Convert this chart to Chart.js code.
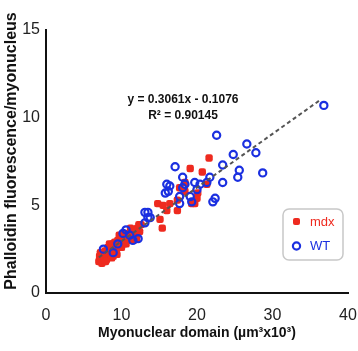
<!DOCTYPE html>
<html>
<head>
<meta charset="utf-8">
<script src="https://cdn.jsdelivr.net/npm/chart.js@4"></script>
<style>
  html, body { margin: 0; padding: 0; background: #fff; }
  #wrap { width: 358px; height: 351px; }
</style>
</head>
<body>
<div id="wrap"><canvas id="chart" width="358" height="351"></canvas></div>
<script>
// mdx (red filled squares)
const mdxX = [7.0, 7.1, 7.3, 7.4, 7.5, 7.7, 7.8, 8.0, 8.0, 8.2, 8.3, 8.5, 8.6, 8.7, 8.8, 9.0, 9.0, 9.1, 9.3, 9.5,
  9.6, 9.8, 10.0, 10.0, 10.1, 10.3, 10.5, 10.8, 11.0, 11.3, 11.5, 11.8, 12.0, 12.1, 12.4, 12.6,
  7.2, 7.9, 8.4, 8.9, 9.4, 9.7, 10.4, 10.6, 11.2, 11.6, 12.3,
  14.8, 15.5, 16.4, 16.0, 17.4, 15.1, 15.4, 17.4, 17.7, 18.4, 19.7, 20.1, 19.3, 20.0, 21.3, 19.1, 20.7, 21.6, 18.4];
const mdxY = [1.8, 2.1, 1.9, 1.7, 2.2, 2.0, 2.4, 2.1, 1.9, 2.6, 2.3, 2.5, 2.2, 2.0, 2.8, 2.6, 2.3, 2.9, 2.5, 3.0,
  2.7, 3.1, 2.9, 2.6, 3.2, 2.8, 3.3, 3.0, 3.4, 3.2, 3.5, 3.3, 3.1, 3.7, 3.5, 3.9,
  2.3, 1.8, 2.8, 2.1, 2.2, 3.3, 3.4, 2.8, 3.7, 3.0, 3.9,
  5.1, 5.0, 5.1, 4.7, 4.7, 4.2, 3.7, 5.3, 6.0, 5.8, 5.1, 5.7, 5.1, 5.4, 6.2, 7.1, 6.9, 7.7, 6.3];

// WT (blue open circles)
const wtX = [7.6, 8.9, 9.5, 10.2, 10.6, 11.1, 11.5, 12.2, 13.1, 13.1, 13.5, 13.5, 13.8, 16.0, 16.2, 16.4, 15.8,
  17.1, 18.1, 18.4, 19.7, 17.7, 17.7, 19.3, 19.1, 20.0, 20.4, 21.3, 21.7, 22.1, 22.4, 23.4, 23.4, 22.6,
  24.8, 25.6, 25.4, 26.6, 27.8, 28.7, 36.8, 18.1];
const wtY = [2.5, 2.3, 2.8, 3.4, 3.6, 3.3, 3.0, 3.1, 4.0, 4.6, 4.3, 4.6, 4.3, 6.2, 5.8, 6.1, 5.7,
  7.2, 6.6, 6.2, 6.3, 5.5, 5.1, 5.2, 5.5, 5.9, 6.2, 6.3, 6.6, 5.2, 5.4, 6.3, 7.3, 9.0,
  7.9, 7.0, 6.6, 8.5, 8.0, 6.85, 10.7, 6.0];

// linear fit shown on the chart
const slope = 0.3061;
const intercept = -0.1076;
const fitRange = [7, 36.4];
const eqLines = ['y = 0.3061x - 0.1076', 'R\u00B2 = 0.90145'];

const xTicks = [0, 10, 20, 30, 40];
const yTicks = [0, 5, 10, 15];
const yTitle = 'Phalloidin fluorescence/myonucleus';

const FONT = '"Liberation Sans", Arial, sans-serif';
const toPts = (xs, ys) => xs.map((x, i) => ({ x: x, y: ys[i] }));
const fitPts = fitRange.map(x => ({ x: x, y: slope * x + intercept }));

// y title, equation text and legend box drawn on top
const overlay = {
  id: 'overlay',
  afterDraw(chart) {
    const ctx = chart.ctx;
    ctx.save();
    ctx.fillStyle = '#111';
    ctx.textAlign = 'center';
    ctx.textBaseline = 'middle';

    ctx.save();
    ctx.translate(12, 151);
    ctx.rotate(-Math.PI / 2);
    ctx.font = 'bold 16px ' + FONT;
    ctx.fillText(yTitle, 0, 0);
    ctx.restore();

    ctx.font = 'bold 12px ' + FONT;
    ctx.fillText(eqLines[0], 183, 100);
    ctx.fillText(eqLines[1], 183, 116);

    // legend
    ctx.strokeStyle = '#c8c8c8';
    ctx.lineWidth = 1.5;
    ctx.beginPath();
    ctx.roundRect(283, 209, 60, 51, 6);
    ctx.stroke();

    ctx.fillStyle = '#ee2a1f';
    ctx.beginPath();
    ctx.roundRect(293, 218, 7, 7, 2);
    ctx.fill();
    ctx.strokeStyle = '#1a2fe0';
    ctx.lineWidth = 2.2;
    ctx.beginPath();
    ctx.arc(296.5, 246, 3.6, 0, Math.PI * 2);
    ctx.stroke();

    ctx.textAlign = 'left';
    ctx.font = '13px ' + FONT;
    ctx.fillStyle = '#ee2a1f';
    ctx.fillText('mdx', 310, 222);
    ctx.fillStyle = '#1a2fe0';
    ctx.fillText('WT', 310, 246);
    ctx.restore();
  }
};

new Chart(document.getElementById('chart'), {
  type: 'scatter',
  data: {
    datasets: [
      {
        label: 'fit',
        type: 'line',
        data: fitPts,
        borderColor: '#555',
        borderWidth: 2,
        borderDash: [4, 3],
        pointRadius: 0,
        fill: false,
        order: 0
      },
      {
        label: 'mdx',
        data: toPts(mdxX, mdxY),
        pointStyle: 'rectRounded',
        pointRadius: 4.3,
        backgroundColor: '#ee2a1f',
        borderColor: '#ee2a1f',
        borderWidth: 0,
        order: 2
      },
      {
        label: 'WT',
        data: toPts(wtX, wtY),
        pointStyle: 'circle',
        pointRadius: 3.6,
        backgroundColor: 'rgba(0,0,0,0)',
        borderColor: '#1a2fe0',
        borderWidth: 2.2,
        order: 1
      }
    ]
  },
  options: {
    responsive: false,
    animation: false,
    layout: { padding: { top: 30, right: 10, left: 0, bottom: 0 } },
    plugins: {
      legend: { display: false },
      tooltip: { enabled: false }
    },
    scales: {
      x: {
        type: 'linear',
        min: 0, max: 40,
        afterBuildTicks: s => { s.ticks = xTicks.map(v => ({ value: v })); },
        afterFit: s => { s.height = 58; s.paddingLeft = 0; s.paddingRight = 0; },
        grid: { display: false, drawTicks: true, tickLength: 6, tickColor: '#111', tickWidth: 2 },
        border: { color: '#111', width: 2 },
        ticks: { color: '#222', font: { size: 16, family: FONT }, padding: 7 },
        title: {
          display: true,
          text: 'Myonuclear domain (\u00B5m\u00B3x10\u00B3)',
          color: '#111',
          font: { size: 14, weight: 'bold', family: FONT },
          padding: { top: 0, bottom: 9 }
        }
      },
      y: {
        type: 'linear',
        min: 0, max: 15,
        afterBuildTicks: s => { s.ticks = yTicks.map(v => ({ value: v })); },
        afterFit: s => { s.width = 46; s.paddingTop = 0; s.paddingBottom = 0; },
        grid: { display: false, drawTicks: true, tickLength: 5, tickColor: '#111', tickWidth: 2 },
        border: { color: '#111', width: 2 },
        ticks: { color: '#222', font: { size: 16, family: FONT }, padding: 1 }
      }
    }
  },
  plugins: [overlay]
});
</script>
</body>
</html>
